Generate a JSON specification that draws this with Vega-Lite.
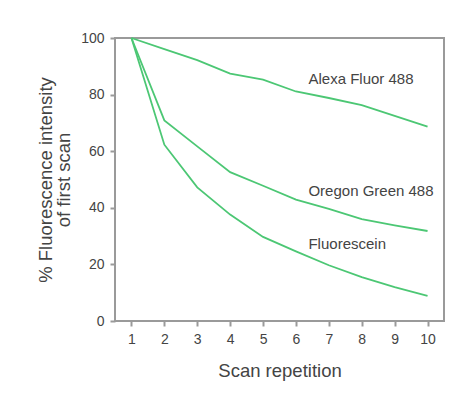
{
  "$schema": "https://vega.github.io/schema/vega-lite/v6.json",
  "width": 329,
  "height": 283,
  "autosize": {"type": "none"},
  "padding": {"left": 115, "top": 38, "right": 25, "bottom": 84},
  "background": "white",
  "config": {
    "font": "Liberation Sans",
    "view": {"stroke": "#9a9a9a", "strokeWidth": 2},
    "axis": {
      "grid": false,
      "domain": false,
      "tickColor": "#9a9a9a",
      "tickWidth": 2,
      "tickSize": 5,
      "labelColor": "#444",
      "titleColor": "#444",
      "labelFontSize": 14,
      "titleFontSize": 18.5,
      "titleFontWeight": "normal",
      "labelFont": "Liberation Sans",
      "titleFont": "Liberation Sans"
    }
  },
  "datasets": {
    "curves": [
      {"series": "Alexa Fluor 488", "scan": 1, "value": 100},
      {"series": "Alexa Fluor 488", "scan": 2, "value": 96.1},
      {"series": "Alexa Fluor 488", "scan": 3, "value": 92.2},
      {"series": "Alexa Fluor 488", "scan": 4, "value": 87.4},
      {"series": "Alexa Fluor 488", "scan": 5, "value": 85.3},
      {"series": "Alexa Fluor 488", "scan": 6, "value": 81.1},
      {"series": "Alexa Fluor 488", "scan": 7, "value": 78.8},
      {"series": "Alexa Fluor 488", "scan": 8, "value": 76.3},
      {"series": "Alexa Fluor 488", "scan": 9, "value": 72.5},
      {"series": "Alexa Fluor 488", "scan": 10, "value": 68.7},
      {"series": "Oregon Green 488", "scan": 1, "value": 100},
      {"series": "Oregon Green 488", "scan": 2, "value": 70.9},
      {"series": "Oregon Green 488", "scan": 3, "value": 61.7},
      {"series": "Oregon Green 488", "scan": 4, "value": 52.6},
      {"series": "Oregon Green 488", "scan": 5, "value": 47.8},
      {"series": "Oregon Green 488", "scan": 6, "value": 42.9},
      {"series": "Oregon Green 488", "scan": 7, "value": 39.6},
      {"series": "Oregon Green 488", "scan": 8, "value": 36.0},
      {"series": "Oregon Green 488", "scan": 9, "value": 33.8},
      {"series": "Oregon Green 488", "scan": 10, "value": 31.8},
      {"series": "Fluorescein", "scan": 1, "value": 100},
      {"series": "Fluorescein", "scan": 2, "value": 62.3},
      {"series": "Fluorescein", "scan": 3, "value": 47.2},
      {"series": "Fluorescein", "scan": 4, "value": 37.6},
      {"series": "Fluorescein", "scan": 5, "value": 29.7},
      {"series": "Fluorescein", "scan": 6, "value": 24.6},
      {"series": "Fluorescein", "scan": 7, "value": 19.7},
      {"series": "Fluorescein", "scan": 8, "value": 15.5},
      {"series": "Fluorescein", "scan": 9, "value": 12.0},
      {"series": "Fluorescein", "scan": 10, "value": 8.9}
    ],
    "labels": [
      {"label": "Alexa Fluor 488", "scan": 6.38, "value": 85.4},
      {"label": "Oregon Green 488", "scan": 6.38, "value": 46},
      {"label": "Fluorescein", "scan": 6.38, "value": 27.2}
    ]
  },
  "layer": [
    {
      "data": {"name": "curves"},
      "mark": {"type": "line", "color": "#4cc774", "strokeWidth": 1.8},
      "encoding": {
        "x": {
          "field": "scan", "type": "quantitative",
          "scale": {"domain": [0.5, 10.5], "nice": false, "zero": false},
          "axis": {"values": [1,2,3,4,5,6,7,8,9,10], "tickCount": 10, "labelOverlap": false, "labelBound": false, "labelFlush": false, "title": "Scan repetition", "labelPadding": 6, "titlePadding": 15}
        },
        "y": {
          "field": "value", "type": "quantitative",
          "scale": {"domain": [0, 100], "nice": false},
          "axis": {"values": [0,20,40,60,80,100], "labelOverlap": false, "title": ["% Fluorescence intensity", "of first scan"], "titleLineHeight": 18, "labelPadding": 6, "titlePadding": 7}
        },
        "detail": {"field": "series"}
      }
    },
    {
      "data": {"name": "labels"},
      "mark": {"type": "text", "align": "left", "baseline": "middle", "fontSize": 15, "color": "#444", "font": "Liberation Sans"},
      "encoding": {
        "x": {"field": "scan", "type": "quantitative"},
        "y": {"field": "value", "type": "quantitative"},
        "text": {"field": "label"}
      }
    }
  ]
}
